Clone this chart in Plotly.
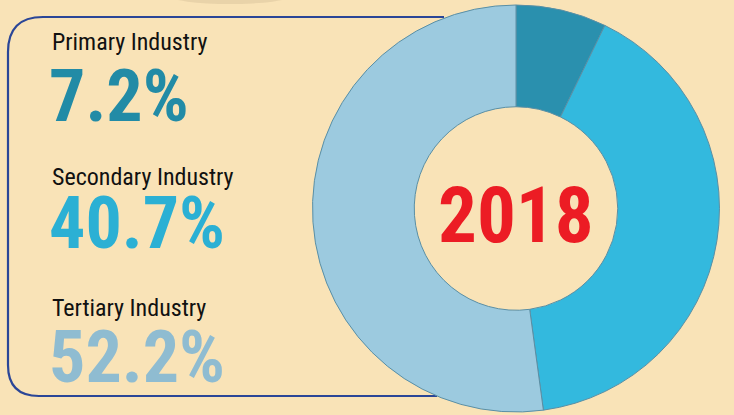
import plotly.graph_objects as go

# ---- data ----
sectors = ["Primary Industry", "Secondary Industry", "Tertiary Industry"]
shares = [7.2, 40.7, 52.2]
share_labels = ["7.2%", "40.7%", "52.2%"]
slice_colors = ["#2A90AE", "#33B9DE", "#9CCADF"]
value_colors = ["#228BA6", "#2BB0D4", "#8FBCD1"]
year_label = "2018"

W, H = 734, 415
BG = "#F9E3B7"
NARROW = "Roboto Condensed, DejaVu Sans Condensed, Liberation Sans Narrow, sans-serif"

fig = go.Figure()

fig.add_trace(go.Pie(
    labels=sectors,
    values=shares,
    hole=0.5,
    sort=False,
    direction="clockwise",
    rotation=0,
    marker=dict(colors=slice_colors, line=dict(color="#5A8FA5", width=1)),
    textinfo="none",
    hoverinfo="label+percent",
    showlegend=False,
    domain=dict(x=[312 / W, 720 / W], y=[1 - 412 / H, 1 - 5 / H]),
))

fig.update_layout(
    xaxis=dict(range=[0, W], visible=False, domain=[0, 1], fixedrange=True),
    yaxis=dict(range=[H, 0], visible=False, domain=[0, 1], fixedrange=True),
)

r1, r2 = 35, 31
path = (f"M 444,17 L {8 + r1},17 Q 8,17 8,{17 + r1} "
        f"L 8,{396 - r2} Q 8,396 {8 + r2},396 L 437,396")
fig.add_shape(type="path", path=path, xref="x", yref="y",
              line=dict(color="#2B4697", width=2.2), layer="below")

fig.add_shape(type="circle", xref="x", yref="y", x0=170, x1=290, y0=-12, y1=4,
              fillcolor="rgba(120,100,70,0.12)", line=dict(width=0), layer="below")

name_y = [58, 193, 324]
value_y = [141, 268, 402]
for i in range(3):
    fig.add_annotation(x=50, y=name_y[i], xref="x", yref="y", text=sectors[i],
                       showarrow=False, xanchor="left", yanchor="bottom",
                       font=dict(family=NARROW, size=24, color="#111111"))
    fig.add_annotation(x=47, y=value_y[i], xref="x", yref="y",
                       text=f"<b>{share_labels[i]}</b>",
                       showarrow=False, xanchor="left", yanchor="bottom",
                       font=dict(family=NARROW, size=72, color=value_colors[i]))

fig.add_annotation(x=516, y=216, xref="x", yref="y", text=f"<b>{year_label}</b>",
                   showarrow=False, xanchor="center", yanchor="middle",
                   font=dict(family=NARROW, size=77, color="#EC1C24"))

fig.update_layout(
    width=W, height=H,
    margin=dict(l=0, r=0, t=0, b=0),
    paper_bgcolor=BG, plot_bgcolor=BG,
)

fig.write_html("out.html", config={"displayModeBar": False},
               post_script="document.body.style.margin='0';document.body.style.background='%s';" % BG)
